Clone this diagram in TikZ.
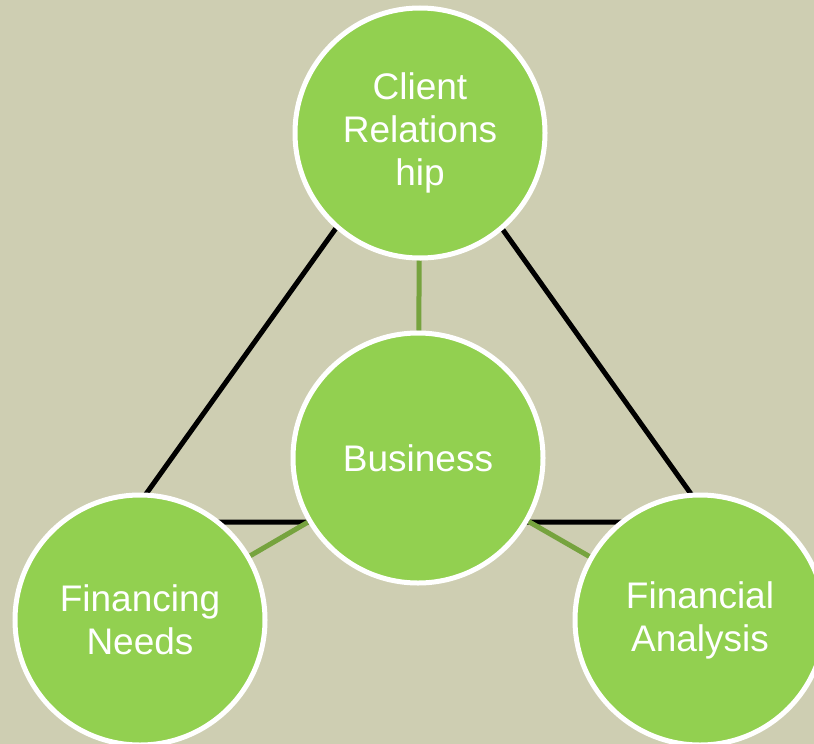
\documentclass[tikz,border=0pt]{standalone}
\usepackage{fontspec}
\setmainfont{Liberation Sans}
\pgfdeclarelayer{background}
\pgfsetlayers{background,main}
\definecolor{bgcol}{RGB}{206,206,178}
\definecolor{leaf}{RGB}{146,208,80}
\definecolor{stem}{RGB}{118,163,62}
\tikzset{
  hub/.style={circle, draw=white, line width=5pt, fill=leaf, minimum size=250pt,
    inner sep=0pt, text=white, align=center, font=\fontsize{37}{43}\selectfont},
  frame/.style={draw=black, line width=5pt},
  spoke/.style={draw=stem, line width=5pt}
}
\begin{document}
\begin{tikzpicture}[x=1pt, y=-1pt]
  \useasboundingbox (0,0) rectangle (814,744);
  % corners of the triangle behind the outer circles
  \coordinate (apex) at (419,112);
  \coordinate (baseL) at (126,522);
  \coordinate (baseR) at (711,522);
  % circles
  \node[hub] (client) at (420,133) {Client\\Relations\\hip};
  \node[hub] (business) at (418,458) {Business};
  \node[hub] (needs) at (140,620) {Financing\\Needs};
  \node[hub] (analysis) at (700,620) {Financial\\Analysis};
  % backdrop, triangle and spokes sit under the circles
  \begin{pgfonlayer}{background}
    \fill[bgcol] (0,0) rectangle (814,744);
    \draw[frame, line join=miter] (apex) -- (baseL) -- (baseR) -- cycle;
    \draw[spoke] (business) -- (client);
    \draw[spoke] (business) -- (needs);
    \draw[spoke] (business) -- (analysis);
  \end{pgfonlayer}
\end{tikzpicture}
\end{document}
